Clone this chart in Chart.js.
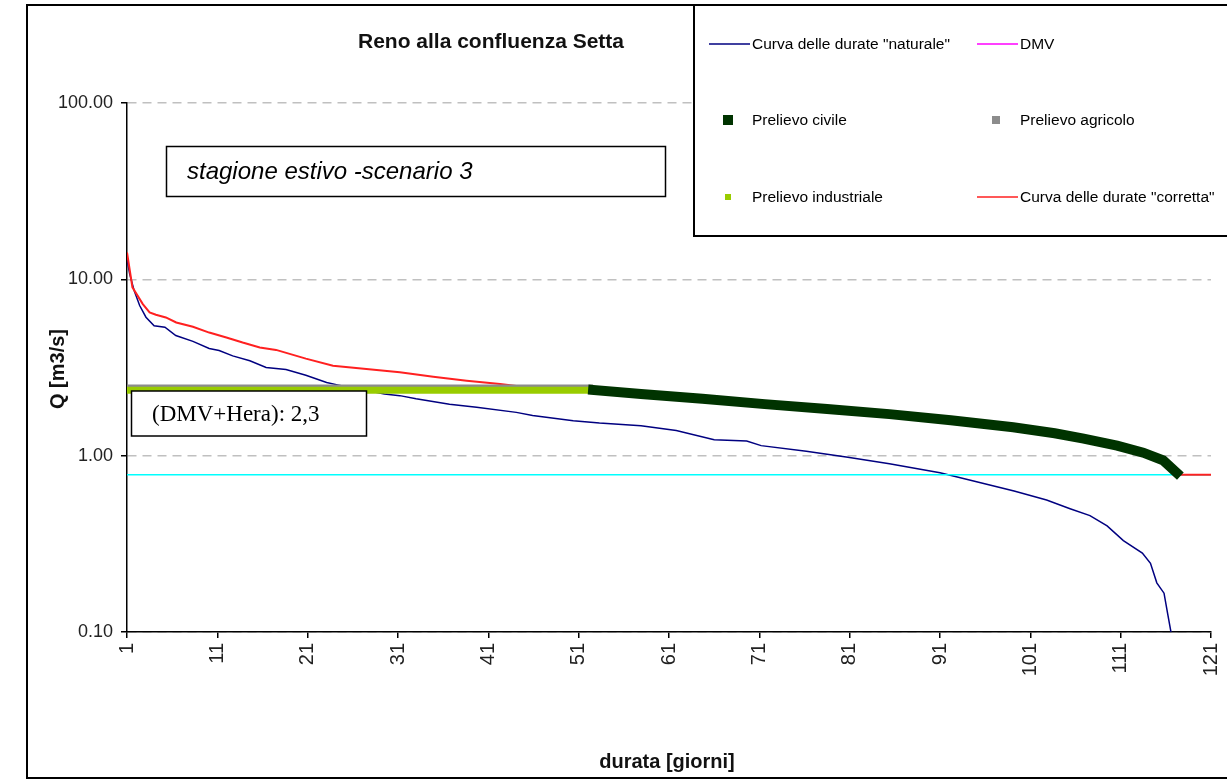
<!DOCTYPE html>
<html>
<head>
<meta charset="utf-8">
<script src="https://cdn.jsdelivr.net/npm/chart.js@4.4.1/dist/chart.umd.min.js"></script>
<style>
  body { margin: 0; background: #fff; }
  canvas { display: block; }
</style>
</head>
<body>
<canvas id="chart" width="1227" height="782"></canvas>
<script>
// ================= DATA =================
const naturalDays = [1, 1.3, 1.8, 2.4, 3.1, 4.0, 5.2, 6.4, 8.3, 10.1, 11.2, 12.7, 14.6, 16.4, 18.6, 20.8, 23.1, 24.3, 26, 28, 29.5, 31.2, 33, 36.7, 39.7, 44.1, 45.9, 50.4, 53.3, 57.9, 61.8, 66, 69.6, 71.2, 76.2, 80.8, 85.4, 91, 94.6, 99.2, 102.8, 105.4, 107.6, 109.5, 111.3, 113.4, 114.3, 115, 115.8, 116.2, 116.6];
const naturalQ = [13.0, 10.7, 8.6, 7.1, 6.1, 5.45, 5.35, 4.8, 4.45, 4.05, 3.95, 3.68, 3.45, 3.16, 3.08, 2.86, 2.6, 2.52, 2.42, 2.32, 2.24, 2.19, 2.10, 1.96, 1.88, 1.76, 1.69, 1.58, 1.53, 1.48, 1.39, 1.23, 1.21, 1.14, 1.06, 0.98, 0.90, 0.80, 0.72, 0.63, 0.56, 0.50, 0.457, 0.40, 0.33, 0.28, 0.245, 0.19, 0.166, 0.127, 0.098];

const correctedDays = [1, 1.6, 2.75, 3.5, 4.2, 5.3, 6.45, 8.3, 10.1, 12, 13.8, 15.7, 17.5, 20.8, 23.8, 27.5, 31.2, 34.9, 38.6, 42.3, 45, 47.5, 50, 117.6, 121];
const correctedQ = [14.2, 9.0, 7.24, 6.49, 6.3, 6.08, 5.69, 5.38, 4.99, 4.68, 4.38, 4.11, 3.98, 3.55, 3.24, 3.10, 2.97, 2.80, 2.66, 2.55, 2.45, 2.40, null, 0.78, 0.78];

const dmvDays = [1, 121];
const dmvQ = [0.78, 0.78];

const agriculturalDays = [1, 52.6];
const agriculturalQ = [2.40, 2.40];

const industrialDays = [1, 52.6];
const industrialQ = [2.35, 2.35];

const civilDays = [52.6, 57.9, 64.7, 71.6, 78.5, 85.4, 92.2, 99.1, 103.7, 106.9, 110.6, 113.5, 115.7, 117.2];
const civilQ = [2.36, 2.24, 2.10, 1.96, 1.84, 1.72, 1.59, 1.45, 1.34, 1.25, 1.14, 1.04, 0.94, 0.80];

const xTicks = [1, 11, 21, 31, 41, 51, 61, 71, 81, 91, 101, 111, 121];
const yTicks = [0.1, 1, 10, 100];

const chartTitle = "Reno alla confluenza Setta";
const xTitle = "durata [giorni]";
const yTitle = "Q [m3/s]";
const scenarioText = "stagione estivo -scenario 3";
const hereText = "(DMV+Hera): 2,3";

const pts = (xs, ys) => xs.map((x, i) => ({ x, y: ys[i] }));

// ================= DRAWN EXTRAS =================
const SANS = "'Liberation Sans', Arial, sans-serif";

function textBox(ctx, x, y, w, h, text, font, tx) {
    ctx.fillStyle = "#fff";
    ctx.fillRect(x, y, w, h);
    ctx.strokeStyle = "#000";
    ctx.lineWidth = 1.5;
    ctx.strokeRect(x, y, w, h);
    ctx.fillStyle = "#000";
    ctx.font = font;
    ctx.textAlign = "left";
    ctx.textBaseline = "middle";
    ctx.fillText(text, tx, y + h / 2 + 1);
}

const extras = {
    id: "extras",
    afterDraw(chart) {
        const ctx = chart.ctx;
        ctx.save();

        // outer frame
        ctx.strokeStyle = "#000";
        ctx.lineWidth = 2;
        ctx.strokeRect(27, 5, 1230, 773);

        // title + axis titles
        ctx.fillStyle = "#111";
        ctx.textAlign = "center";
        ctx.textBaseline = "middle";
        ctx.font = "bold 21px " + SANS;
        ctx.fillText(chartTitle, 491, 42);
        ctx.font = "bold 20px " + SANS;
        ctx.fillText(xTitle, 667, 762);
        ctx.save();
        ctx.translate(58, 369);
        ctx.rotate(-Math.PI / 2);
        ctx.fillText(yTitle, 0, 0);
        ctx.restore();

        // text boxes
        textBox(ctx, 166.5, 146.5, 499, 50, scenarioText, "italic 24px " + SANS, 187);
        textBox(ctx, 131.5, 391, 235, 45, hereText, "23px 'Liberation Serif', 'Times New Roman', serif", 152);

        // legend
        ctx.fillStyle = "#fff";
        ctx.fillRect(694, 5, 540, 231);
        ctx.lineWidth = 2;
        ctx.strokeRect(694, 5, 540, 231);

        const cols = [709, 977];
        const rows = [44, 120, 197];
        ctx.font = "15.5px " + SANS;
        ctx.textAlign = "left";
        ctx.textBaseline = "middle";
        chart.data.datasets.forEach(ds => {
            const lg = ds.legend;
            const x = cols[lg.col], y = rows[lg.row];
            if (lg.kind === "line") {
                ctx.strokeStyle = lg.color;
                ctx.lineWidth = 1.5;
                ctx.beginPath();
                ctx.moveTo(x, y);
                ctx.lineTo(x + 41, y);
                ctx.stroke();
            } else {
                ctx.fillStyle = lg.color;
                ctx.fillRect(x + 19 - lg.size / 2, y - lg.size / 2, lg.size, lg.size);
            }
            ctx.fillStyle = "#000";
            ctx.fillText(ds.label, x + 43, y + 1);
        });

        ctx.restore();
    }
};

// ================= CHART =================
new Chart(document.getElementById("chart"), {
    type: "line",
    data: {
        datasets: [
            {
                label: 'Curva delle durate "naturale"',
                data: pts(naturalDays, naturalQ),
                borderColor: "#000080", borderWidth: 1.5, order: 6,
                legend: { col: 0, row: 0, kind: "line", color: "#000080" }
            },
            {
                label: "DMV",
                data: pts(dmvDays, dmvQ),
                borderColor: "#00ffff", borderWidth: 1.5, order: 5,
                legend: { col: 1, row: 0, kind: "line", color: "#ff00ff" }
            },
            {
                label: "Prelievo civile",
                data: pts(civilDays, civilQ),
                borderColor: "#003300", borderWidth: 10, borderCapStyle: "square", order: 1,
                legend: { col: 0, row: 1, kind: "square", color: "#003300", size: 10 }
            },
            {
                label: "Prelievo agricolo",
                data: pts(agriculturalDays, agriculturalQ),
                borderColor: "#8c8c8c", borderWidth: 8, order: 3,
                legend: { col: 1, row: 1, kind: "square", color: "#8c8c8c", size: 8 }
            },
            {
                label: "Prelievo industriale",
                data: pts(industrialDays, industrialQ),
                borderColor: "#99cc00", borderWidth: 7, order: 2,
                legend: { col: 0, row: 2, kind: "square", color: "#99cc00", size: 6 }
            },
            {
                label: 'Curva delle durate "corretta"',
                data: pts(correctedDays, correctedQ),
                borderColor: "#ff2020", borderWidth: 2, order: 4,
                legend: { col: 1, row: 2, kind: "line", color: "#ff2020" }
            }
        ]
    },
    options: {
        responsive: false,
        animation: false,
        spanGaps: false,
        elements: { point: { radius: 0 }, line: { tension: 0 } },
        layout: { padding: { top: 103, right: 16, left: 0, bottom: 0 } },
        plugins: { legend: { display: false }, tooltip: { enabled: false } },
        scales: {
            x: {
                type: "linear",
                min: 1,
                max: 121,
                afterBuildTicks: s => { s.ticks = xTicks.map(v => ({ value: v })); },
                afterFit: s => { s.height = 150; s.paddingRight = 0; s.paddingLeft = 0; },
                ticks: {
                    autoSkip: false, minRotation: 90, maxRotation: 90, padding: 5,
                    color: "#222", font: { family: SANS, size: 20 },
                    callback: v => String(v)
                },
                grid: { drawOnChartArea: false, color: "#000", tickColor: "#000", tickLength: 6, lineWidth: 1.5 },
                border: { display: true, color: "#000", width: 1.5 }
            },
            y: {
                type: "logarithmic",
                min: 0.1,
                max: 100,
                afterBuildTicks: s => { s.ticks = yTicks.map(v => ({ value: v })); },
                afterFit: s => { s.width = 127; },
                ticks: {
                    autoSkip: false, padding: 8,
                    color: "#222", font: { family: SANS, size: 18 },
                    callback: v => Number(v).toFixed(2)
                },
                grid: {
                    color: "#c0c0c0", lineWidth: 1.5,
                    tickColor: "#000", tickLength: 6, tickWidth: 1.5, tickBorderDash: [1, 0]
                },
                border: { display: true, color: "#000", width: 1.5, dash: [9, 6] }
            }
        }
    },
    plugins: [extras]
});
</script>
</body>
</html>
